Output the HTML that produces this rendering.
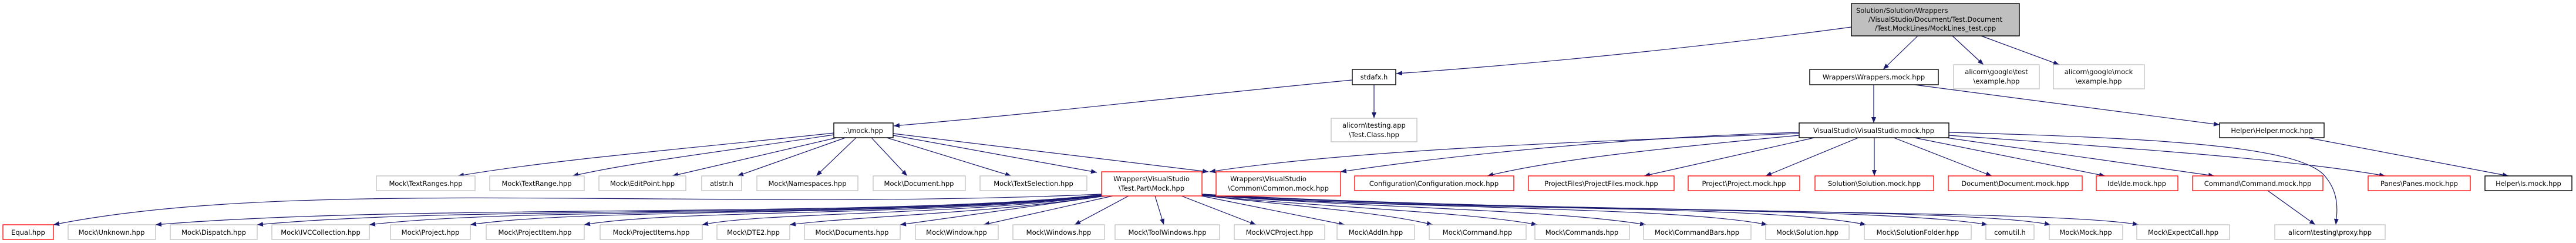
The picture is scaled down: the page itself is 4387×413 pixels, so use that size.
<!DOCTYPE html>
<html><head><meta charset="utf-8"><style>
html,body{margin:0;padding:0;background:#fff;}
svg{display:block;}
text{font-family:"DejaVu Sans","Liberation Sans",sans-serif;font-size:11.5px;fill:#000;text-anchor:middle;}
.g{fill:#fff;stroke:#bfbfbf;stroke-width:1.3;}
.r{fill:#fff;stroke:#ff0000;stroke-width:1.3;}
.k{fill:#fff;stroke:#000;stroke-width:1.4;}
.e{fill:none;stroke:#191970;stroke-width:1.2;marker-end:url(#a);}
</style></head><body>
<svg width="4387" height="413" viewBox="0 0 4387 413" xmlns="http://www.w3.org/2000/svg">
<defs><marker id="a" markerUnits="userSpaceOnUse" markerWidth="11" markerHeight="8" refX="10" refY="4" orient="auto"><path d="M0,0 L10,4 L0,8 z" fill="#191970"/></marker></defs>

<!-- edges -->
<path class="e" d="M3153 46 C2900 80 2600 110 2378 125"/>
<path class="e" d="M3266 61 L3207 118"/>
<path class="e" d="M3325 61 L3378 110"/>
<path class="e" d="M3374 61 L3507 110"/>
<path class="e" d="M2303 136 C2000 165 1800 190 1522 214"/>
<path class="e" d="M2340 144 L2340 201"/>
<path class="e" d="M3191 144 L3191 209"/>
<path class="e" d="M3260 144 L3780 212"/>
<path class="e" d="M3930 234 L4272 299"/>

<path class="e" d="M1420 226 C1200 250 950 270 780 299"/>
<path class="e" d="M1420 229 C1250 255 1080 275 975 299"/>
<path class="e" d="M1425 234 L1145 299"/>
<path class="e" d="M1440 234 L1256 299"/>
<path class="e" d="M1458 234 L1390 299"/>
<path class="e" d="M1484 234 L1545 299"/>
<path class="e" d="M1510 234 L1722 299"/>
<path class="e" d="M1521 230 L1868 293"/>
<path class="e" d="M1521 227 L2058 292"/>

<path class="e" d="M3064 227 C2700 240 2300 255 2060 292"/>
<path class="e" d="M3064 225 C2800 232 2500 260 2283 292"/>
<path class="e" d="M3064 230 C2850 250 2650 270 2533 299"/>
<path class="e" d="M3090 234 L2800 299"/>
<path class="e" d="M3165 234 L3007 299"/>
<path class="e" d="M3192 234 L3192 299"/>
<path class="e" d="M3225 234 L3392 299"/>
<path class="e" d="M3260 234 L3585 299"/>
<path class="e" d="M3300 232 L3771 299"/>
<path class="e" d="M3319 230 C3600 250 3900 270 4062 299"/>
<path class="e" d="M3319 225 C3700 235 3920 250 3960 300 C3985 330 3980 360 3978 382"/>
<path class="e" d="M3862 324 L3943 382"/>

<path class="e" d="M1876 330 C1200 360 500 300 91 382"/>
<path class="e" d="M1876 331 C1500 372 700 345 265 382"/>
<path class="e" d="M1876 331 C1500 372 800 348 438 382"/>
<path class="e" d="M1876 332 C1500 372 900 350 629 382"/>
<path class="e" d="M1876 332 C1550 370 1000 352 801 382"/>
<path class="e" d="M1876 332 C1600 368 1150 355 995 382"/>
<path class="e" d="M1876 332 C1650 366 1300 360 1196 382"/>
<path class="e" d="M1876 333 C1700 362 1450 368 1345 382"/>
<path class="e" d="M1883 333 L1533 382"/>
<path class="e" d="M1895 333 L1675 382"/>
<path class="e" d="M1922 333 L1830 382"/>
<path class="e" d="M1967 333 L1982 382"/>
<path class="e" d="M2012 333 L2139 382"/>
<path class="e" d="M2046 333 L2290 382"/>
<path class="e" d="M2046 332 C2200 350 2350 360 2440 382"/>
<path class="e" d="M2046 332 C2250 352 2500 360 2618 382"/>
<path class="e" d="M2046 331 C2300 352 2650 356 2803 382"/>
<path class="e" d="M2046 331 C2350 355 2850 350 3010 382"/>
<path class="e" d="M2046 330 C2400 360 3000 345 3178 382"/>
<path class="e" d="M2046 330 C2500 360 3200 350 3385 382"/>
<path class="e" d="M2046 330 C2600 362 3350 352 3492 382"/>
<path class="e" d="M2046 330 C2700 365 3500 355 3642 382"/>

<!-- top nodes -->
<rect x="3153" y="6" width="286" height="55" fill="#bfbfbf" stroke="#000" stroke-width="1.4"/>
<text x="3296" y="22" style="text-anchor:start" transform="translate(-135,0)">Solution/Solution/Wrappers</text>
<text x="3296" y="37">/VisualStudio/Document/Test.Document</text>
<text x="3296" y="52">/Test.MockLines/MockLines_test.cpp</text>

<rect class="k" x="2303" y="118" width="74" height="26"/><text x="2340" y="135">stdafx.h</text>
<rect class="k" x="3082" y="118" width="219" height="26"/><text x="3191" y="135">Wrappers\Wrappers.mock.hpp</text>
<rect class="g" x="3327" y="110" width="146" height="41"/><text x="3400" y="126">alicorn\google\test</text><text x="3400" y="142">\example.hpp</text>
<rect class="g" x="3497" y="110" width="155" height="41"/><text x="3574" y="126">alicorn\google\mock</text><text x="3574" y="142">\example.hpp</text>
<rect class="g" x="2267" y="201" width="146" height="40"/><text x="2340" y="217">alicorn\testing.app</text><text x="2340" y="233">\Test.Class.hpp</text>
<rect class="k" x="1420" y="209" width="101" height="25"/><text x="1470" y="226">..\mock.hpp</text>
<rect class="k" x="3064" y="209" width="255" height="25"/><text x="3191" y="226">VisualStudio\VisualStudio.mock.hpp</text>
<rect class="k" x="3780" y="209" width="178" height="25"/><text x="3869" y="226">Helper\Helper.mock.hpp</text>

<!-- row 2 -->
<rect class="g" x="641" y="299" width="168" height="25"/><text x="725" y="316">Mock\TextRanges.hpp</text>
<rect class="g" x="834" y="299" width="161" height="25"/><text x="914" y="316">Mock\TextRange.hpp</text>
<rect class="g" x="1020" y="299" width="148" height="25"/><text x="1094" y="316">Mock\EditPoint.hpp</text>
<rect class="g" x="1195" y="299" width="68" height="25"/><text x="1229" y="316">atlstr.h</text>
<rect class="g" x="1289" y="299" width="172" height="25"/><text x="1375" y="316">Mock\Namespaces.hpp</text>
<rect class="g" x="1487" y="299" width="157" height="25"/><text x="1565" y="316">Mock\Document.hpp</text>
<rect class="g" x="1669" y="299" width="182" height="25"/><text x="1760" y="316">Mock\TextSelection.hpp</text>
<rect class="r" x="1876" y="292" width="171" height="41"/><text x="1961" y="308">Wrappers\VisualStudio</text><text x="1961" y="324">\Test.Part\Mock.hpp</text>
<rect class="r" x="2071" y="292" width="212" height="41"/><text x="2160" y="308">Wrappers\VisualStudio</text><text x="2177" y="324">\Common\Common.mock.hpp</text>
<rect class="r" x="2307" y="299" width="271" height="25"/><text x="2442" y="316">Configuration\Configuration.mock.hpp</text>
<rect class="r" x="2603" y="299" width="248" height="25"/><text x="2727" y="316">ProjectFiles\ProjectFiles.mock.hpp</text>
<rect class="r" x="2875" y="299" width="190" height="25"/><text x="2970" y="316">Project\Project.mock.hpp</text>
<rect class="r" x="3091" y="299" width="202" height="25"/><text x="3192" y="316">Solution\Solution.mock.hpp</text>
<rect class="r" x="3318" y="299" width="228" height="25"/><text x="3432" y="316">Document\Document.mock.hpp</text>
<rect class="r" x="3570" y="299" width="139" height="25"/><text x="3639" y="316">Ide\Ide.mock.hpp</text>
<rect class="r" x="3734" y="299" width="222" height="25"/><text x="3845" y="316">Command\Command.mock.hpp</text>
<rect class="r" x="4033" y="299" width="174" height="25"/><text x="4120" y="316">Panes\Panes.mock.hpp</text>
<rect class="k" x="4232" y="299" width="148" height="25"/><text x="4306" y="316">Helper\Is.mock.hpp</text>

<!-- bottom row -->
<rect class="r" x="5" y="382" width="86" height="25"/><text x="48" y="399">Equal.hpp</text>
<rect class="g" x="116" y="382" width="149" height="25"/><text x="190" y="399">Mock\Unknown.hpp</text>
<rect class="g" x="290" y="382" width="148" height="25"/><text x="364" y="399">Mock\Dispatch.hpp</text>
<rect class="g" x="463" y="382" width="166" height="25"/><text x="546" y="399">Mock\IVCCollection.hpp</text>
<rect class="g" x="665" y="382" width="136" height="25"/><text x="733" y="399">Mock\Project.hpp</text>
<rect class="g" x="828" y="382" width="167" height="25"/><text x="911" y="399">Mock\ProjectItem.hpp</text>
<rect class="g" x="1022" y="382" width="174" height="25"/><text x="1109" y="399">Mock\ProjectItems.hpp</text>
<rect class="g" x="1221" y="382" width="124" height="25"/><text x="1283" y="399">Mock\DTE2.hpp</text>
<rect class="g" x="1370" y="382" width="163" height="25"/><text x="1451" y="399">Mock\Documents.hpp</text>
<rect class="g" x="1559" y="382" width="141" height="25"/><text x="1629" y="399">Mock\Window.hpp</text>
<rect class="g" x="1725" y="382" width="156" height="25"/><text x="1803" y="399">Mock\Windows.hpp</text>
<rect class="g" x="1899" y="382" width="178" height="25"/><text x="1988" y="399">Mock\ToolWindows.hpp</text>
<rect class="g" x="2102" y="382" width="154" height="25"/><text x="2179" y="399">Mock\VCProject.hpp</text>
<rect class="g" x="2277" y="382" width="132" height="25"/><text x="2343" y="399">Mock\AddIn.hpp</text>
<rect class="g" x="2434" y="382" width="165" height="25"/><text x="2516" y="399">Mock\Command.hpp</text>
<rect class="g" x="2614" y="382" width="161" height="25"/><text x="2694" y="399">Mock\Commands.hpp</text>
<rect class="g" x="2799" y="382" width="183" height="25"/><text x="2890" y="399">Mock\CommandBars.hpp</text>
<rect class="g" x="3007" y="382" width="142" height="25"/><text x="3078" y="399">Mock\Solution.hpp</text>
<rect class="g" x="3175" y="382" width="182" height="25"/><text x="3266" y="399">Mock\SolutionFolder.hpp</text>
<rect class="g" x="3382" y="382" width="82" height="25"/><text x="3423" y="399">comutil.h</text>
<rect class="g" x="3490" y="382" width="125" height="25"/><text x="3552" y="399">Mock\Mock.hpp</text>
<rect class="g" x="3639" y="382" width="158" height="25"/><text x="3718" y="399">Mock\ExpectCall.hpp</text>
<rect class="g" x="3874" y="382" width="188" height="25"/><text x="3968" y="399">alicorn\testing\proxy.hpp</text>
</svg>
</body></html>
